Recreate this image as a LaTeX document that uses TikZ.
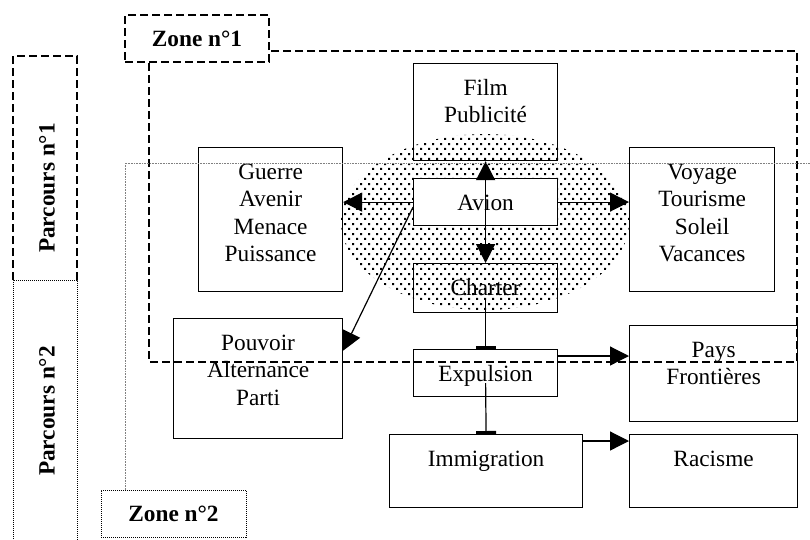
\documentclass[tikz,border=0pt]{standalone}
\usepackage{fontspec}
\setmainfont{Liberation Serif}
\usetikzlibrary{arrows.meta,patterns}

% motif de points de l'ovale
\pgfdeclarepatternformonly{ovaldots}{\pgfqpoint{0pt}{0pt}}{\pgfqpoint{8.3pt}{10pt}}{\pgfqpoint{8.3pt}{10pt}}{%
  \pgfpathrectangle{\pgfqpoint{0.2pt}{0.2pt}}{\pgfqpoint{2.2pt}{2.2pt}}%
  \pgfpathrectangle{\pgfqpoint{4.35pt}{5.2pt}}{\pgfqpoint{2.2pt}{2.2pt}}%
  \pgfusepath{fill}}

% texte des cadres, aligné en haut
\newcommand{\cadretxt}[1]{\begin{tabular}[t]{@{}c@{}}#1\end{tabular}}

\begin{document}
\begin{tikzpicture}[x=1pt,y=-1pt,line width=1.2pt,
    font=\fontsize{23.3pt}{27.5pt}\selectfont,
    box/.style={draw, rectangle, inner sep=0pt, anchor=north west},
    txt/.style={anchor=base, inner sep=0pt, yshift=-32.4pt},
    zoneline/.style={dash pattern=on 8pt off 4pt, line width=1.2pt},
    dotline/.style={dash pattern=on 1pt off 1pt, line width=1pt},
    tip/.style={-{Triangle[length=19pt,width=19pt]}},
    stop/.style={-{Bar[width=20pt,line width=3pt]}}]

    \useasboundingbox (0,0) rectangle (810,539);
    \clip (0,0) rectangle (810,539);

    % Ovale pointillé
    \fill[pattern=ovaldots] (485,222) ellipse [x radius=144, y radius=88];

    % Cadres
    \node[box, minimum width=144pt, minimum height=97pt, label={[txt]north:{\cadretxt{Film\\Publicité}}}] (film) at (413,63) {};
    \node[box, fill=white, minimum width=144pt, minimum height=47pt, label={[txt]north:{\cadretxt{Avion}}}] (avion) at (413,178) {};
    \node[box, minimum width=144pt, minimum height=144pt, label={[txt]north:{\cadretxt{Guerre\\Avenir\\Menace\\Puissance}}}] (guerre) at (198,147) {};
    \node[box, minimum width=145pt, minimum height=144pt, label={[txt]north:{\cadretxt{Voyage\\Tourisme\\Soleil\\Vacances}}}] (voyage) at (629,147) {};
    \node[box, minimum width=144pt, minimum height=49pt, label={[txt]north:{\cadretxt{Charter}}}] (charter) at (413,263) {};
    \node[box, minimum width=169pt, minimum height=120pt, label={[txt]north:{\cadretxt{Pouvoir\\Alternance\\Parti}}}] (pouvoir) at (173,318) {};
    \node[box, minimum width=144pt, minimum height=47pt, label={[txt]north:{\cadretxt{Expulsion}}}] (expulsion) at (413,349) {};
    \node[box, minimum width=168pt, minimum height=96pt, label={[txt]north:{\cadretxt{Pays\\Frontières}}}] (pays) at (629,325) {};
    \node[box, minimum width=193pt, minimum height=73pt, label={[txt]north:{\cadretxt{Immigration}}}] (immigration) at (389,434) {};
    \node[box, minimum width=168pt, minimum height=73pt, label={[txt]north:{\cadretxt{Racisme}}}] (racisme) at (629,434) {};

    % Liaisons
    \draw[{Triangle[length=19pt,width=19pt]}-{Triangle[length=19pt,width=19pt]}] (film.south) -- (charter.north);
    \draw[tip] (avion.west) -- (avion.west -| guerre.east);
    \draw[tip] (avion.east) -- (avion.east -| voyage.west);
    \draw[tip] ([yshift=-5pt]avion.west) -- ([yshift=28pt]pouvoir.east);
    \draw[stop] ([yshift=-10pt]charter.center) -- (expulsion.north);
    \draw[stop] ([yshift=-10pt]expulsion.center) -- (immigration.north);
    \draw[tip] ([yshift=-7pt]expulsion.north east) -- ([yshift=-7pt]expulsion.north east -| pays.west);
    \draw[tip] ([yshift=-7pt]immigration.north east) -- ([yshift=-7pt]immigration.north east -| racisme.west);

    % Zones
    \draw[zoneline] (149,51) rectangle (797,362);
    \draw[gray, line width=0.6pt, densely dotted] (125,490) -- (125,163) -- (815,163);
    \node[draw, zoneline, fill=white, minimum width=144pt, minimum height=47pt, font=\fontsize{23.3pt}{27.5pt}\selectfont\bfseries] (zone1) at (197,38.5) {Zone n°1};
    \node[draw, dotline, fill=white, minimum width=145pt, minimum height=47pt, font=\fontsize{23.3pt}{27.5pt}\selectfont\bfseries] (zone2) at (173.5,513.5) {Zone n°2};

    % Parcours
    \draw[zoneline] (13,280) -- (13,56) -- (77,56) -- (77,280);
    \draw[dotline] (13,545) -- (13,280) -- (77,280) -- (77,545);
    \node[rotate=90, font=\fontsize{23.3pt}{27.5pt}\selectfont\bfseries] (parc1) at (47,188) {Parcours n°1};
    \node[rotate=90, font=\fontsize{23.3pt}{27.5pt}\selectfont\bfseries] (parc2) at (47,411) {Parcours n°2};
\end{tikzpicture}
\end{document}
